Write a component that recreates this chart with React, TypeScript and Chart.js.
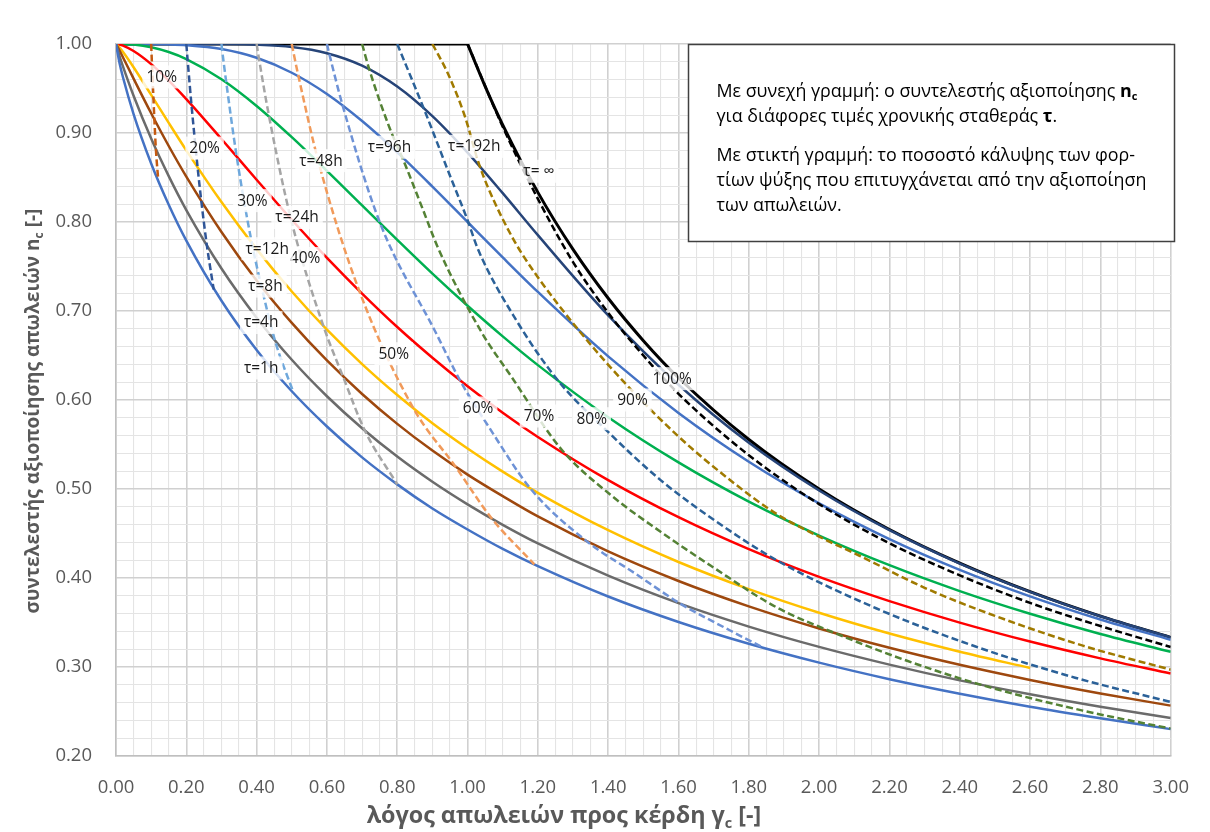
import React, { useEffect, useRef } from "react";
import { Chart, registerables } from "chart.js";

Chart.register(...registerables);

// ---------- data ----------
// γc sample positions of the solid curves
const GAMMA = [0, 0.01, 0.02, 0.05, 0.1, 0.15, 0.2, 0.3, 0.4, 0.5, 0.6, 0.7, 0.8, 0.9, 1.0, 1.1, 1.2, 1.4, 1.6, 1.8, 2.0, 2.2, 2.4, 2.6, 2.8, 3.0];

const ETA_1H = [1, 0.9786, 0.9623, 0.9213, 0.8658, 0.8194, 0.7791, 0.7115, 0.6562, 0.6098, 0.5702, 0.5355, 0.5052, 0.4781, 0.4545, 0.4327, 0.4133, 0.3792, 0.3506, 0.3261, 0.3049, 0.2863, 0.27, 0.2554, 0.2424, 0.2302];
const ETA_4H = [1, 0.9864, 0.9745, 0.9418, 0.8937, 0.8515, 0.8134, 0.7477, 0.6925, 0.6452, 0.6042, 0.5682, 0.5364, 0.5081, 0.4827, 0.4597, 0.4388, 0.4026, 0.3717, 0.3454, 0.3226, 0.3027, 0.285, 0.2694, 0.2554, 0.2428];
const ETA_8H = [1, 0.9927, 0.9849, 0.9611, 0.9222, 0.8854, 0.851, 0.7888, 0.7343, 0.6866, 0.6444, 0.6068, 0.5732, 0.5432, 0.5162, 0.492, 0.4692, 0.4298, 0.3966, 0.3681, 0.3433, 0.3216, 0.3025, 0.2855, 0.2703, 0.2566];
const ETA_12H = [1, 0.996, 0.991, 0.9739, 0.9428, 0.9113, 0.8805, 0.8224, 0.7695, 0.7219, 0.679, 0.6404, 0.6056, 0.5739, 0.5455, 0.5195, 0.4957, 0.4537, 0.418, 0.3875, 0.3609, 0.3376, 0.3172, 0.2989];
const ETA_24H = [1, 0.9994, 0.9981, 0.9921, 0.9774, 0.9589, 0.9381, 0.8933, 0.8475, 0.8025, 0.7597, 0.7196, 0.682, 0.6475, 0.6154, 0.5857, 0.5585, 0.51, 0.4683, 0.4324, 0.4012, 0.374, 0.3499, 0.3286, 0.3097, 0.2927];
const ETA_48H = [1, 1, 0.9999, 0.9993, 0.9964, 0.991, 0.9831, 0.9604, 0.9304, 0.8953, 0.8575, 0.8186, 0.7799, 0.742, 0.7059, 0.6715, 0.6392, 0.5807, 0.5299, 0.4858, 0.4477, 0.4144, 0.3853, 0.3598, 0.3371, 0.3171];
const ETA_96H = [1, 1, 1, 1, 0.9999, 0.9996, 0.9987, 0.9943, 0.9845, 0.9677, 0.9438, 0.9134, 0.8782, 0.8398, 0.8, 0.7602, 0.7214, 0.649, 0.5855, 0.5307, 0.4839, 0.4438, 0.4092, 0.3794, 0.3534, 0.3306];
const ETA_192H = [1, 1, 1, 1, 1, 1, 1, 0.9999, 0.9992, 0.9966, 0.9897, 0.9757, 0.9522, 0.919, 0.878, 0.8324, 0.7852, 0.695, 0.6171, 0.5519, 0.4983, 0.4537, 0.4162, 0.3844, 0.357, 0.3333];

const INF_FLAT_X = [0, 1.0];
const INF_FLAT_Y = [1, 1];
const INF_X = [1.0, 1.05, 1.1, 1.2, 1.3, 1.4, 1.5, 1.6, 1.8, 2.0, 2.2, 2.4, 2.6, 2.8, 3.0];
const INF_Y = [1.0, 0.9524, 0.9091, 0.8333, 0.7692, 0.7143, 0.6667, 0.625, 0.5556, 0.5, 0.4545, 0.4167, 0.3846, 0.3571, 0.3333];

// coverage (dashed) lines
const P10_X = [0.1, 0.1004, 0.1024, 0.1065, 0.1092, 0.1134, 0.12];
const P10_Y = [1.0, 0.996, 0.9765, 0.939, 0.915, 0.882, 0.848];
const P20_X = [0.2, 0.2036, 0.2146, 0.2322, 0.2428, 0.2584, 0.278];
const P20_Y = [1.0, 0.9825, 0.932, 0.861, 0.823, 0.774, 0.724];
const P30_X = [0.3, 0.3017, 0.3136, 0.3435, 0.386, 0.414, 0.452, 0.505];
const P30_Y = [1.0, 0.994, 0.957, 0.873, 0.777, 0.727, 0.667, 0.608];
const P40_X = [0.4, 0.4066, 0.4355, 0.4975, 0.59, 0.645, 0.708, 0.8];
const P40_Y = [1.0, 0.9836, 0.9185, 0.8035, 0.683, 0.627, 0.5655, 0.5052];
const P50_X = [0.5, 0.5017, 0.519, 0.577, 0.692, 0.846, 0.965, 1.07, 1.19];
const P50_Y = [1.0, 0.9965, 0.9638, 0.866, 0.7226, 0.5907, 0.5254, 0.4663, 0.4152];
const P60_X = [0.6, 0.6066, 0.6446, 0.751, 0.908, 0.98, 1.06, 1.18, 1.34, 1.477, 1.606, 1.747, 1.837];
const P60_Y = [1.0, 0.989, 0.931, 0.799, 0.677, 0.621, 0.57, 0.5, 0.441, 0.405, 0.371, 0.341, 0.3225];
const P70_X = [0.7, 0.72, 0.776, 0.823, 0.87, 0.917, 1.04, 1.125, 1.266, 1.408, 1.549, 1.691, 1.879, 2.049, 2.25, 2.478, 2.75, 3.0];
const P70_Y = [1.0, 0.972, 0.908, 0.864, 0.817, 0.77, 0.676, 0.626, 0.545, 0.493, 0.452, 0.414, 0.367, 0.3375, 0.307, 0.278, 0.251, 0.2308];
const P80_X = [0.8, 0.879, 0.945, 1.0, 1.03, 1.138, 1.257, 1.408, 1.549, 1.691, 1.879, 2.162, 2.445, 2.728, 3.0];
const P80_Y = [1.0, 0.924, 0.857, 0.802, 0.769, 0.69, 0.622, 0.561, 0.51, 0.468, 0.42, 0.366, 0.323, 0.288, 0.2607];
const P90_X = [0.9, 0.945, 0.993, 1.03, 1.059, 1.134, 1.2, 1.319, 1.45, 1.6, 1.75, 1.879, 2.0, 2.115, 2.3, 2.5, 2.75, 3.0];
const P90_Y = [1.0, 0.966, 0.918, 0.868, 0.838, 0.778, 0.738, 0.677, 0.618, 0.559, 0.509, 0.472, 0.4465, 0.425, 0.389, 0.3575, 0.324, 0.297];
const P100_X = [1.0, 1.1, 1.2, 1.3, 1.4, 1.5, 1.6, 1.8, 2.0, 2.2, 2.4, 2.6, 2.8, 3.0];
const P100_Y = [1.0, 0.907, 0.826, 0.755, 0.698, 0.65, 0.607, 0.538, 0.483, 0.439, 0.403, 0.372, 0.346, 0.3225];

const X_TICKS = [0, 0.2, 0.4, 0.6, 0.8, 1.0, 1.2, 1.4, 1.6, 1.8, 2.0, 2.2, 2.4, 2.6, 2.8, 3.0];
const Y_TICKS = [0.2, 0.3, 0.4, 0.5, 0.6, 0.7, 0.8, 0.9, 1.0];

const CURVE_LABELS = ["10%", "20%", "30%", "40%", "50%", "60%", "70%", "80%", "90%", "100%", "τ=1h", "τ=4h", "τ=8h", "τ=12h", "τ=24h", "τ=48h", "τ=96h", "τ=192h", "τ= ∞"];
const LABEL_AT_X = [0.13, 0.252, 0.388, 0.538, 0.79, 1.03, 1.203, 1.353, 1.469, 1.582, 0.413, 0.413, 0.425, 0.43, 0.515, 0.583, 0.778, 1.019, 1.203];
const LABEL_AT_Y = [0.963, 0.883, 0.824, 0.759, 0.652, 0.591, 0.582, 0.579, 0.6, 0.624, 0.636, 0.687, 0.728, 0.77, 0.805, 0.869, 0.884, 0.885, 0.857];

// ---------- styling ----------
const FONT = '"Open Sans", "Noto Sans", "DejaVu Sans", sans-serif';

type Seg = { t: string; bold?: boolean; sub?: boolean };

function segFont(s: Seg, size: number, baseBold: boolean) {
  const w = baseBold || s.bold ? "700 " : "400 ";
  const sz = s.sub ? size * 0.62 : size;
  return `${w}${sz}px ${FONT}`;
}
function measureRich(ctx: CanvasRenderingContext2D, segs: Seg[], size: number, baseBold: boolean) {
  let w = 0;
  for (const s of segs) {
    ctx.font = segFont(s, size, baseBold);
    w += ctx.measureText(s.t).width;
  }
  return w;
}
function drawRich(ctx: CanvasRenderingContext2D, segs: Seg[], x: number, y: number, size: number, baseBold: boolean, color: string) {
  let cx = x;
  ctx.fillStyle = color;
  ctx.textAlign = "left";
  ctx.textBaseline = "alphabetic";
  for (const s of segs) {
    ctx.font = segFont(s, size, baseBold);
    ctx.fillText(s.t, cx, s.sub ? y + size * 0.2 : y);
    cx += ctx.measureText(s.t).width;
  }
}
function fitSize(ctx: CanvasRenderingContext2D, segs: Seg[], target: number, baseBold: boolean) {
  const w = measureRich(ctx, segs, 20, baseBold);
  return (20 * target) / w;
}

const TITLE_X: Seg[] = [{ t: "λόγος απωλειών προς κέρδη γ" }, { t: "c", sub: true }, { t: " [-]" }];
const TITLE_Y: Seg[] = [{ t: "συντελεστής αξιοποίησης απωλειών n" }, { t: "c", sub: true }, { t: " [-]" }];
const BOX_LINES: Seg[][] = [
  [{ t: "Με συνεχή γραμμή: ο συντελεστής αξιοποίησης " }, { t: "n", bold: true }, { t: "c", bold: true, sub: true }],
  [{ t: "για διάφορες τιμές χρονικής σταθεράς " }, { t: "τ", bold: true }, { t: "." }],
  [{ t: "Με στικτή γραμμή: το ποσοστό κάλυψης των φορ-" }],
  [{ t: "τίων ψύξης που επιτυγχάνεται από την αξιοποίηση" }],
  [{ t: "των απωλειών." }],
];

const isMajorX = (v: number) => Math.abs(v * 5 - Math.round(v * 5)) < 1e-6;
const isMajorY = (v: number) => Math.abs(v * 10 - Math.round(v * 10)) < 1e-6;

const overlayPlugin = {
  id: "overlay",
  afterDatasetsDraw(chart: any) {
    const ctx: CanvasRenderingContext2D = chart.ctx;
    const xs = chart.scales.x;
    const ys = chart.scales.y;
    ctx.save();
    ctx.font = `400 15.5px ${FONT}`;
    CURVE_LABELS.forEach((text, i) => {
      const px = xs.getPixelForValue(LABEL_AT_X[i]);
      const py = ys.getPixelForValue(LABEL_AT_Y[i]);
      const w = ctx.measureText(text).width;
      ctx.fillStyle = "rgba(255,255,255,0.8)";
      ctx.fillRect(px - w / 2 - 4, py - 11.5, w + 8, 23);
      ctx.fillStyle = "#1A1A1A";
      ctx.textAlign = "center";
      ctx.textBaseline = "middle";
      ctx.fillText(text, px, py + 0.5);
    });
    ctx.restore();
  },
  afterDraw(chart: any) {
    const ctx: CanvasRenderingContext2D = chart.ctx;
    ctx.save();
    // note box
    ctx.fillStyle = "#ffffff";
    ctx.fillRect(688.5, 44.5, 486, 197);
    ctx.strokeStyle = "#404040";
    ctx.lineWidth = 1.5;
    ctx.strokeRect(688.5, 44.5, 486, 197);
    const boxSize = fitSize(ctx, BOX_LINES[3], 430, false);
    const baselines = [96.7, 121.7, 160.7, 185.7, 210.7];
    BOX_LINES.forEach((segs, i) => drawRich(ctx, segs, 716.5, baselines[i], boxSize, false, "#000000"));

    // x title
    const tx = fitSize(ctx, TITLE_X, 395, true);
    const wx = measureRich(ctx, TITLE_X, tx, true);
    drawRich(ctx, TITLE_X, 564 - wx / 2, 823, tx, true, "#595959");

    // y title
    const ty = fitSize(ctx, TITLE_Y, 405, true);
    const wy = measureRich(ctx, TITLE_Y, ty, true);
    ctx.save();
    ctx.translate(39, 411);
    ctx.rotate(-Math.PI / 2);
    drawRich(ctx, TITLE_Y, -wy / 2, 0, ty, true, "#595959");
    ctx.restore();
    ctx.restore();
  },
};

function solid(label: string, ys: number[], color: string, width = 2.5) {
  return {
    label,
    data: ys.map((y, i) => ({ x: GAMMA[i], y })),
    borderColor: color,
    borderWidth: width,
    pointRadius: 0,
    fill: false,
    cubicInterpolationMode: "monotone",
    order: 2,
  };
}
function xy(label: string, xsArr: number[], ysArr: number[], color: string, dashed: boolean, width = 2.5) {
  return {
    label,
    data: xsArr.map((x, i) => ({ x, y: ysArr[i] })),
    borderColor: color,
    borderWidth: width,
    borderDash: dashed ? [7, 3.5] : [],
    pointRadius: 0,
    fill: false,
    cubicInterpolationMode: "monotone",
    order: dashed ? 1 : 2,
  };
}

export default function App() {
  const ref = useRef<HTMLCanvasElement | null>(null);
  useEffect(() => {
    document.body.style.margin = "0";
    const canvas = ref.current!;
    const datasets: any[] = [
      solid("τ=1h", ETA_1H, "#4472C4"),
      solid("τ=4h", ETA_4H, "#6B6B6B"),
      solid("τ=8h", ETA_8H, "#9E480E"),
      solid("τ=12h", ETA_12H, "#FFC000"),
      solid("τ=24h", ETA_24H, "#FF0000"),
      solid("τ=48h", ETA_48H, "#00B050"),
      solid("τ=96h", ETA_96H, "#4472C4"),
      solid("τ=192h", ETA_192H, "#264478"),
      xy("τ=∞ a", INF_FLAT_X, INF_FLAT_Y, "#000000", false, 3),
      xy("τ=∞", INF_X, INF_Y, "#000000", false, 3),
      xy("10%", P10_X, P10_Y, "#C55A11", true),
      xy("20%", P20_X, P20_Y, "#2F5597", true),
      xy("30%", P30_X, P30_Y, "#6FA8DC", true),
      xy("40%", P40_X, P40_Y, "#A5A5A5", true),
      xy("50%", P50_X, P50_Y, "#F19A5A", true),
      xy("60%", P60_X, P60_Y, "#6E92D6", true),
      xy("70%", P70_X, P70_Y, "#548235", true),
      xy("80%", P80_X, P80_Y, "#2B6198", true),
      xy("90%", P90_X, P90_Y, "#A07A00", true),
      xy("100%", P100_X, P100_Y, "#000000", true),
    ];
    const chart = new Chart(canvas, {
      type: "line",
      data: { datasets },
      options: {
        responsive: false,
        animation: false,
        events: [],
        layout: { padding: { left: 0, right: 34, top: 44, bottom: 0 } },
        plugins: { legend: { display: false }, tooltip: { enabled: false } },
        scales: {
          x: {
            type: "linear",
            min: 0,
            max: 3,
            afterBuildTicks: (s: any) => {
              const t: any[] = [];
              for (let i = 0; i <= 60; i++) t.push({ value: i / 20 });
              s.ticks = t;
            },
            afterFit: (s: any) => {
              s.height = 76;
            },
            ticks: {
              autoSkip: false,
              maxRotation: 0,
              padding: 21,
              color: "#595959",
              font: { family: FONT, size: 18.5 },
              callback: (v: any) => {
                const hit = X_TICKS.find((t) => Math.abs(t - v) < 1e-6);
                return hit !== undefined && isMajorX(v) ? hit.toFixed(2) : "";
              },
            },
            grid: {
              drawTicks: false,
              color: (c: any) => (c.tick && isMajorX(c.tick.value) ? "#D0D0D0" : "#E4E4E4"),
              lineWidth: (c: any) => (c.tick && isMajorX(c.tick.value) ? 1.6 : 1.1),
            },
            border: { display: true, color: "#BFBFBF", width: 1.5 },
          },
          y: {
            type: "linear",
            min: 0.2,
            max: 1.0,
            afterBuildTicks: (s: any) => {
              const t: any[] = [];
              for (let i = 0; i <= 40; i++) t.push({ value: Math.round((0.2 + i * 0.02) * 100) / 100 });
              s.ticks = t;
            },
            afterFit: (s: any) => {
              s.width = 116;
            },
            ticks: {
              autoSkip: false,
              padding: 24,
              color: "#595959",
              font: { family: FONT, size: 18.5 },
              callback: (v: any) => {
                const hit = Y_TICKS.find((t) => Math.abs(t - v) < 1e-6);
                return hit !== undefined ? hit.toFixed(2) : "";
              },
            },
            grid: {
              drawTicks: false,
              color: (c: any) => (c.tick && isMajorY(c.tick.value) ? "#D0D0D0" : "#E4E4E4"),
              lineWidth: (c: any) => (c.tick && isMajorY(c.tick.value) ? 1.6 : 1.1),
            },
            border: { display: true, color: "#BFBFBF", width: 1.5 },
          },
        },
      } as any,
      plugins: [overlayPlugin],
    });
    return () => chart.destroy();
  }, []);
  return (
    <div style={{ width: 1210, height: 832, background: "#ffffff" }}>
      <canvas ref={ref} width={1210} height={832} style={{ display: "block", width: 1210, height: 832 }} />
    </div>
  );
}
